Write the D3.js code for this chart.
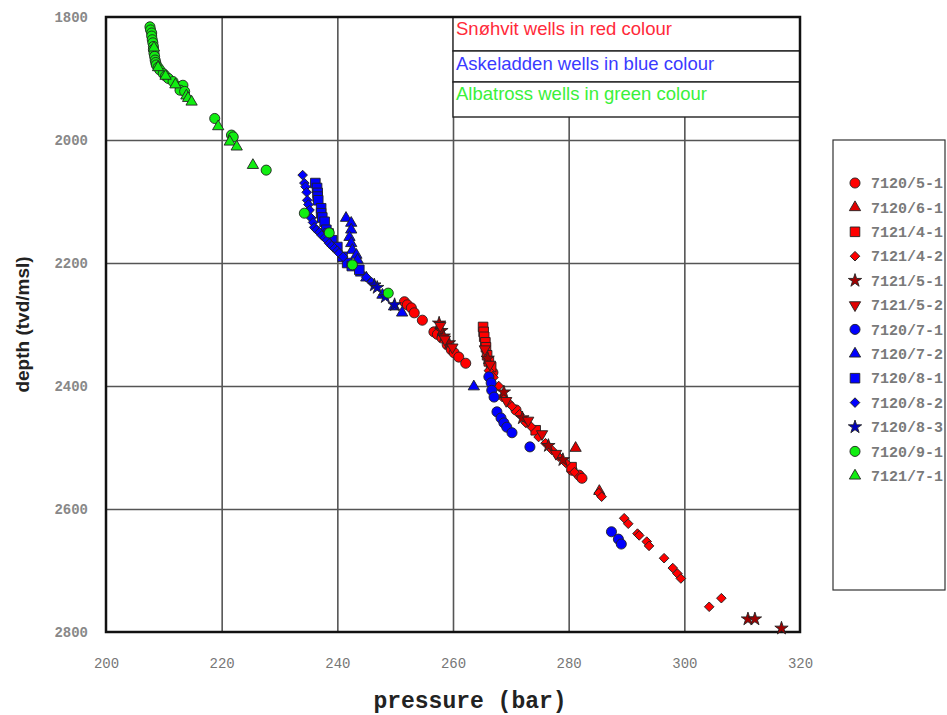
<!DOCTYPE html>
<html>
<head>
<meta charset="utf-8">
<script src="https://cdn.jsdelivr.net/npm/d3@7"></script>
<style>
  body { margin: 0; background: #fff; }
</style>
</head>
<body>
<div id="chart-area"></div>
<script>
// tick values
const pressureTicks = [200, 220, 240, 260, 280, 300, 320];
const depthTicks = [1800, 2000, 2200, 2400, 2600, 2800];

// well names in legend order
const wells = ['7120/5-1', '7120/6-1', '7121/4-1', '7121/4-2', '7121/5-1', '7121/5-2',
  '7120/7-1', '7120/7-2', '7120/8-1', '7120/8-2', '7120/8-3', '7120/9-1', '7121/7-1'];

const notes = ['Snøhvit wells in red colour', 'Askeladden wells in blue colour', 'Albatross wells in green colour'];

// Snøhvit
const p7120_5_1 = [251.6, 252.1, 252.8, 253.3, 254.7, 256.7, 257.3, 258.1, 259.0, 259.7, 260.2, 261.0, 262.2, 266.9, 270.9, 280.6, 281.8, 282.3];
const d7120_5_1 = [2263, 2268, 2273, 2281, 2293, 2312, 2316, 2322, 2333, 2341, 2346, 2353, 2363, 2378, 2439, 2537, 2545, 2550];
const p7120_6_1 = [281.2, 285.3];
const d7120_6_1 = [2501, 2571];
const p7121_4_1 = [265.2, 265.3, 265.4, 265.6, 265.7, 265.9, 266.2, 266.6, 274.3, 280.5];
const d7121_4_1 = [2304, 2312, 2320, 2329, 2337, 2350, 2360, 2369, 2472, 2532];
const p7121_4_2 = [266.2, 267.0, 267.9, 268.5, 269.7, 270.2, 271.5, 272.6, 273.5, 274.8, 276.0, 277.1, 278.3, 279.5, 281.0,
  285.2, 285.7, 289.6, 290.3, 291.9, 292.2, 293.5, 293.9, 296.5, 298.0, 298.8, 299.4, 304.3, 306.4];
const d7121_4_2 = [2375, 2386, 2400, 2418, 2428, 2433, 2446, 2460, 2466, 2483, 2493, 2504, 2515, 2525, 2540,
  2574, 2580, 2615, 2624, 2640, 2643, 2653, 2660, 2680, 2696, 2705, 2713, 2759, 2745];
const p7121_5_1 = [257.6, 258.0, 258.4, 259.3, 266.0, 268.8, 272.0, 276.5, 279.0, 311.0, 312.2, 316.8];
const d7121_5_1 = [2298, 2310, 2319, 2330, 2355, 2410, 2452, 2497, 2520, 2779, 2779, 2794];
const p7121_5_2 = [257.8, 258.6, 259.9, 265.5, 266.4, 269.2, 273.0, 275.4, 277.8];
const d7121_5_2 = [2302, 2324, 2337, 2340, 2365, 2424, 2456, 2478, 2510];

// Askeladden
const p7120_7_1 = [266.2, 266.6, 266.7, 267.1, 267.6, 268.3, 268.8, 269.3, 270.2, 273.3, 287.4, 288.6, 289.1];
const d7120_7_1 = [2385, 2395, 2407, 2418, 2442, 2452, 2460, 2467, 2476, 2499, 2637, 2649, 2657];
const p7120_7_2 = [241.5, 242.4, 242.4, 242.1, 242.4, 242.6, 243.3, 243.5, 244.1, 245.0, 247.8, 249.8, 251.2, 263.6];
const d7120_7_2 = [2127, 2135, 2146, 2158, 2168, 2179, 2187, 2195, 2216, 2224, 2252, 2271, 2281, 2401];
const p7120_8_1 = [236.2, 236.5, 236.6, 236.6, 236.7, 237.2, 237.2, 237.4, 237.8, 238.1, 238.5, 239.1, 240.0, 240.9, 241.7, 242.5, 243.8];
const d7120_8_1 = [2070, 2078, 2086, 2092, 2098, 2111, 2119, 2126, 2133, 2146, 2152, 2163, 2174, 2190, 2200, 2205, 2211];
const p7120_8_2 = [234.0, 234.3, 234.5, 234.7, 234.8, 235.0, 235.2, 235.5, 235.8, 236.0, 236.4, 236.9, 237.3, 237.8,
  238.2, 238.6, 239.0, 239.5, 240.0, 240.3, 241.0, 245.0, 245.9];
const d7120_8_2 = [2057, 2070, 2076, 2085, 2098, 2105, 2114, 2127, 2134, 2142, 2146, 2150, 2155, 2159,
  2163, 2168, 2172, 2176, 2180, 2184, 2190, 2223, 2231];
const p7120_8_3 = [246.4, 246.9, 248.3, 249.9];
const d7120_8_3 = [2236, 2240, 2255, 2268];

// Albatross
const p7120_9_1 = [207.6, 207.7, 207.9, 207.9, 208.0, 208.1, 208.2, 208.2, 208.3, 208.4, 208.5, 208.6, 208.7, 209.0, 209.3,
  209.9, 210.3, 210.8, 211.6, 212.8, 213.3, 212.8, 213.6, 218.8, 221.7, 222.0, 227.7, 234.3, 238.6, 242.6, 248.8];
const d7120_9_1 = [1816, 1821, 1826, 1831, 1837, 1842, 1848, 1853, 1859, 1864, 1870, 1874, 1878, 1882, 1886,
  1892, 1896, 1900, 1905, 1913, 1911, 1919, 1921, 1965, 1992, 1995, 2049, 2119, 2151, 2203, 2249];
const p7121_7_1 = [208.3, 209.0, 210.3, 212.0, 213.9, 214.2, 214.8, 219.4, 221.4, 222.6, 225.4];
const d7121_7_1 = [1850, 1882, 1896, 1910, 1928, 1932, 1938, 1978, 2003, 2011, 2041];

const red = '#ff0000';
const blue = '#0000ff';
const green = '#11ee11';

// one row per well: values, colour and marker
const series = [
  { p: p7120_5_1, d: d7120_5_1, color: red, shape: 'circle' },
  { p: p7120_6_1, d: d7120_6_1, color: '#e00000', shape: 'triangle' },
  { p: p7121_4_1, d: d7121_4_1, color: red, shape: 'square' },
  { p: p7121_4_2, d: d7121_4_2, color: red, shape: 'diamond' },
  { p: p7121_5_1, d: d7121_5_1, color: '#a00000', shape: 'star' },
  { p: p7121_5_2, d: d7121_5_2, color: '#e00000', shape: 'down' },
  { p: p7120_7_1, d: d7120_7_1, color: blue, shape: 'circle' },
  { p: p7120_7_2, d: d7120_7_2, color: blue, shape: 'triangle' },
  { p: p7120_8_1, d: d7120_8_1, color: blue, shape: 'square' },
  { p: p7120_8_2, d: d7120_8_2, color: blue, shape: 'diamond' },
  { p: p7120_8_3, d: d7120_8_3, color: '#0000c0', shape: 'star' },
  { p: p7120_9_1, d: d7120_9_1, color: green, shape: 'circle' },
  { p: p7121_7_1, d: d7121_7_1, color: green, shape: 'triangle' }
].map((s, i) => ({ ...s, name: wells[i], points: s.p.map((v, j) => [v, s.d[j]]) }));

// marker paths
const shapes = {
  circle: d3.symbol(d3.symbolCircle, 80)(),
  square: d3.symbol(d3.symbolSquare, 92)(),
  triangle: d3.symbol(d3.symbolTriangle, 55)(),
  down: d3.symbol(d3.symbolTriangle, 55)(),
  diamond: d3.symbol(d3.symbolSquare, 46)(),
  star: d3.symbol(d3.symbolStar, 55)()
};
const rotate = s => s === 'down' ? ' rotate(180)' : s === 'diamond' ? ' rotate(45)' : '';

const width = 947;
const height = 715;
const plot = { left: 106, right: 800, top: 17, bottom: 632 };

const svg = d3.select('#chart-area').append('svg')
  .attr('width', width)
  .attr('height', height);

const x = d3.scaleLinear().domain([200, 320]).range([plot.left, plot.right]);
const y = d3.scaleLinear().domain([1800, 2800]).range([plot.top, plot.bottom]);

// grid lines
svg.append('g')
  .attr('transform', `translate(0, ${plot.bottom})`)
  .call(d3.axisBottom(x).tickValues(pressureTicks.slice(1, -1)).tickSize(-(plot.bottom - plot.top)).tickFormat(''))
  .call(g => g.select('.domain').remove())
  .selectAll('line').attr('stroke', '#555').attr('stroke-width', 1.6);

svg.append('g')
  .attr('transform', `translate(${plot.left}, 0)`)
  .call(d3.axisLeft(y).tickValues(depthTicks.slice(1, -1)).tickSize(-(plot.right - plot.left)).tickFormat(''))
  .call(g => g.select('.domain').remove())
  .selectAll('line').attr('stroke', '#555').attr('stroke-width', 1.6);

// tick labels
svg.append('g')
  .attr('transform', `translate(0, ${plot.bottom})`)
  .call(d3.axisBottom(x).tickValues(pressureTicks).tickSize(0).tickPadding(26).tickFormat(d3.format('d')))
  .call(g => g.select('.domain').remove())
  .selectAll('text')
  .attr('font-family', '"Liberation Mono", monospace')
  .attr('font-size', 14)
  .attr('fill', '#777');

svg.append('g')
  .attr('transform', `translate(${plot.left}, 0)`)
  .call(d3.axisLeft(y).tickValues(depthTicks).tickSize(0).tickPadding(18).tickFormat(d3.format('d')))
  .call(g => g.select('.domain').remove())
  .selectAll('text')
  .attr('font-family', '"Liberation Mono", monospace')
  .attr('font-size', 14)
  .attr('font-weight', 'bold')
  .attr('fill', '#888');

// note boxes in the top right corner
const noteColors = ['#ff2a3a', '#3a3aff', '#3af03a'];
const noteRows = [17, 51, 82, 117];
const noteBase = [35, 70, 100];
notes.forEach((t, i) => {
  svg.append('rect')
    .attr('x', x(260))
    .attr('y', noteRows[i])
    .attr('width', x(320) - x(260))
    .attr('height', noteRows[i + 1] - noteRows[i])
    .attr('fill', '#fff')
    .attr('stroke', '#222')
    .attr('stroke-width', 1.4);
  svg.append('text')
    .attr('x', x(260) + 3)
    .attr('y', noteBase[i])
    .attr('font-family', '"Liberation Sans", Arial, sans-serif')
    .attr('font-size', 18.5)
    .attr('fill', noteColors[i])
    .text(t);
});

// frame
svg.append('rect')
  .attr('x', plot.left)
  .attr('y', plot.top)
  .attr('width', plot.right - plot.left)
  .attr('height', plot.bottom - plot.top)
  .attr('fill', 'none')
  .attr('stroke', '#111')
  .attr('stroke-width', 2.5);

// data points
const pointsG = svg.append('g');
series.forEach(s => {
  pointsG.selectAll(null)
    .data(s.points)
    .enter().append('path')
    .attr('d', shapes[s.shape])
    .attr('transform', d => `translate(${x(d[0])}, ${y(d[1])})${rotate(s.shape)}`)
    .attr('fill', s.color)
    .attr('stroke', '#222')
    .attr('stroke-width', 0.9);
});

// axis titles
svg.append('text')
  .attr('transform', `translate(29, ${(plot.top + plot.bottom) / 2}) rotate(-90)`)
  .attr('text-anchor', 'middle')
  .attr('font-family', '"Liberation Sans", Arial, sans-serif')
  .attr('font-size', 19)
  .attr('font-weight', 'bold')
  .attr('fill', '#222')
  .text('depth (tvd/msl)');

svg.append('text')
  .attr('x', 470)
  .attr('y', 708)
  .attr('text-anchor', 'middle')
  .attr('font-family', '"Liberation Mono", monospace')
  .attr('font-size', 23)
  .attr('font-weight', 'bold')
  .attr('fill', '#222')
  .text('pressure (bar)');

// legend
const legend = svg.append('g');
legend.append('rect')
  .attr('x', 833)
  .attr('y', 140)
  .attr('width', 112)
  .attr('height', 450)
  .attr('fill', '#fff')
  .attr('stroke', '#333')
  .attr('stroke-width', 1.2);

const rows = legend.selectAll('g.row')
  .data(series)
  .enter().append('g')
  .attr('class', 'row')
  .attr('transform', (d, i) => `translate(855, ${183 + i * 24.4})`);

rows.append('path')
  .attr('d', d => shapes[d.shape])
  .attr('transform', d => rotate(d.shape).trim())
  .attr('fill', d => d.color)
  .attr('stroke', '#222')
  .attr('stroke-width', 0.9);

rows.append('text')
  .attr('x', 16)
  .attr('dy', '0.35em')
  .attr('font-family', '"Liberation Mono", monospace')
  .attr('font-size', 15)
  .attr('font-weight', 'bold')
  .attr('fill', '#7a7a7a')
  .text(d => d.name);
</script>
</body>
</html>
